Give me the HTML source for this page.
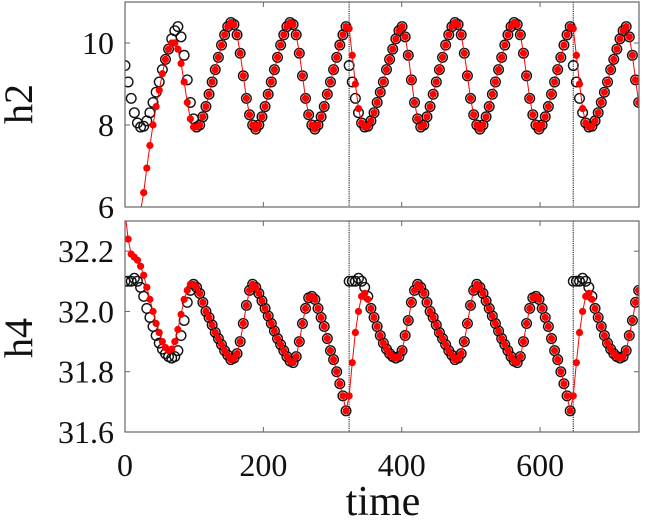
<!DOCTYPE html>
<html><head><meta charset="utf-8">
<style>
html,body{margin:0;padding:0;background:#fff;}
svg{display:block;}
text{font-family:"Liberation Serif",serif;fill:#111;}
</style></head>
<body>
<svg id="chart" width="645" height="522" viewBox="0 0 645 522" xmlns="http://www.w3.org/2000/svg">
<defs>
<clipPath id="clipTop"><rect x="125" y="2" width="514" height="205"/></clipPath>
<clipPath id="clipBot"><rect x="125" y="221" width="514" height="211"/></clipPath>
</defs>
<g id="layer"></g>
</svg>
<script>
// ---- data ----
const dt = 4.5;
const segmentStarts = [0, 324, 648];
const xMax = 743;
const xTicks = [0, 200, 400, 600];
const h2Ticks = [6, 8, 10];
const h2TickLabels = ["6", "8", "10"];
const h4Ticks = [31.6, 31.8, 32.0, 32.2];
const h4TickLabels = ["31.6", "31.8", "32.0", "32.2"];
// black (observed) h2 per segment (samples every dt)
const h2Black = [9.45,9.05,8.65,8.3,8.05,7.95,7.97,8.1,8.3,8.55,8.8,9.05,9.35,9.6,9.85,10.1,10.3,10.4,10.15,9.7,9.1,8.55,8.15,
7.95,8.0,8.2,8.45,8.75,9.05,9.35,9.65,9.95,10.2,10.4,10.5,10.45,10.2,9.75,9.2,8.65,8.25,8.0,
7.9,8.0,8.2,8.45,8.75,9.05,9.35,9.65,9.95,10.2,10.4,10.5,10.45,10.2,9.75,9.2,8.65,8.25,8.0,
7.9,8.0,8.2,8.45,8.75,9.05,9.35,9.65,9.95,10.2,10.4];
// red (estimated) h2 heads; afterwards red follows black
const h2RedHead1 = [3.2,3.9,4.6,5.2,5.6,5.9,6.35,6.95,7.5,8.0,8.45,8.85,9.25,9.6,9.85,10.0,10.0,9.85,9.5,9.05,8.55,8.15,7.95];
const h2RedHead2 = [10.35,9.7,9.0,8.4,8.05,7.95];
// black h4 per segment
const h4Black = [32.1,32.1,32.1,32.11,32.1,32.08,32.05,32.01,31.98,31.95,31.92,31.895,31.875,31.86,31.85,31.845,31.85,31.87,31.92,31.97,32.03,32.07,32.09,
32.08,32.06,32.03,32.0,31.98,31.955,31.93,31.91,31.89,31.87,31.855,31.84,31.845,31.86,31.9,31.96,32.02,32.07,32.09,
32.08,32.06,32.035,32.01,31.985,31.96,31.935,31.91,31.89,31.87,31.85,31.835,31.83,31.85,31.9,31.96,32.01,32.045,32.05,
32.04,32.01,31.98,31.95,31.91,31.87,31.84,31.8,31.76,31.72,31.67];
const h4RedHead1 = [32.33,32.24,32.19,32.18,32.17,32.15,32.12,32.08,32.04,32.0,31.96,31.93,31.9,31.88,31.87,31.875,31.9,31.94,31.99,32.04,32.07,32.09];
const h4RedHead2 = [31.72,31.83,31.93,32.0,32.05,32.06,32.04];

// ---- geometry ----
const NS = "http://www.w3.org/2000/svg";
const layer = document.getElementById("layer");
const X0 = 125, X1 = 639;
const xs = t => X0 + t / xMax * (X1 - X0);
const panels = [
  {name:"h2", top:2, bot:207, min:6, max:11, clip:"clipTop", ticks:h2Ticks, labels:h2TickLabels, rightTicks:[10],
   black:h2Black, heads:[h2RedHead1,h2RedHead2,h2RedHead2], labelY:104},
  {name:"h4", top:221, bot:432, min:31.6, max:32.3, clip:"clipBot", ticks:h4Ticks, labels:h4TickLabels, rightTicks:[31.8,32.2],
   black:h4Black, heads:[h4RedHead1,h4RedHead2,h4RedHead2], labelY:338}
];
function mk(tag, attrs, parent){ const e=document.createElementNS(NS,tag); for(const k in attrs) e.setAttribute(k,attrs[k]); (parent||layer).appendChild(e); return e; }

panels.forEach(p=>{
  const ys = v => p.bot - (v - p.min)/(p.max - p.min)*(p.bot - p.top);
  const g = mk("g",{});
  
  
  const blackPts=[], redPts=[];
  segmentStarts.forEach((s,si)=>{
    const end = si+1<segmentStarts.length ? segmentStarts[si+1] : xMax+1;
    for(let i=0;i<p.black.length;i++){
      const t = s + i*dt; if(t>=end) break;
      blackPts.push([t,p.black[i]]);
      const head = p.heads[si];
      redPts.push([t, i<head.length ? head[i] : p.black[i]]);
    }
  });
  const clipG = mk("g",{"clip-path":"url(#"+p.clip+")"},g);
  segmentStarts.slice(1).forEach(s=>{
    const l = mk("line",{x1:xs(s),x2:xs(s),y1:p.top,y2:p.bot,stroke:"#444","stroke-width":1.3,"stroke-dasharray":"1.2,1"},clipG);
    
    
  });
  blackPts.forEach(([t,v])=>{
    const c = mk("circle",{cx:xs(t),cy:ys(v),r:4.8,fill:"none",stroke:"#111","stroke-width":1.4},clipG);
    
    
  });
  const pl = mk("polyline",{points:redPts.map(([t,v])=>xs(t)+","+ys(v)).join(" "),fill:"none",stroke:"#f00","stroke-width":1},clipG);
  
  
  redPts.forEach(([t,v])=>{
    const c = mk("circle",{cx:xs(t),cy:ys(v),r:3.6,fill:"#f00"},clipG);
    
    
  });
  const fr = mk("rect",{x:X0,y:p.top,width:X1-X0,height:p.bot-p.top,fill:"none",stroke:"#666","stroke-width":1.2},g);
  
  
  xTicks.forEach(t=>{
    if(t===0) return;
    mk("line",{x1:xs(t),x2:xs(t),y1:p.bot,y2:p.bot-5,stroke:"#666","stroke-width":1},g);
    mk("line",{x1:xs(t),x2:xs(t),y1:p.top,y2:p.top+5,stroke:"#666","stroke-width":1},g);
  });
  p.ticks.forEach((v,i)=>{
    mk("line",{x1:X0,x2:X0+5,y1:ys(v),y2:ys(v),stroke:"#666","stroke-width":1},g);
    const tx = mk("text",{x:114,y:ys(v)+11,"text-anchor":"end","font-size":32},g);
    tx.textContent = p.labels[i];
    
    
  });
  p.rightTicks.forEach(v=>{
    mk("line",{x1:X1,x2:X1-5,y1:ys(v),y2:ys(v),stroke:"#666","stroke-width":1},g);
  });
  const yl = mk("text",{x:0,y:0,"text-anchor":"middle","font-size":40,transform:"translate(32,"+p.labelY+") rotate(-90)"},g);
  yl.textContent = p.name;
  
  
});
xTicks.forEach(t=>{
  const tx = mk("text",{x:xs(t),y:476,"text-anchor":"middle","font-size":32});
  tx.textContent = String(t);
  
  
});
const xt = mk("text",{x:383,y:515,"text-anchor":"middle","font-size":42});
xt.textContent = "time";


</script>
</body></html>
